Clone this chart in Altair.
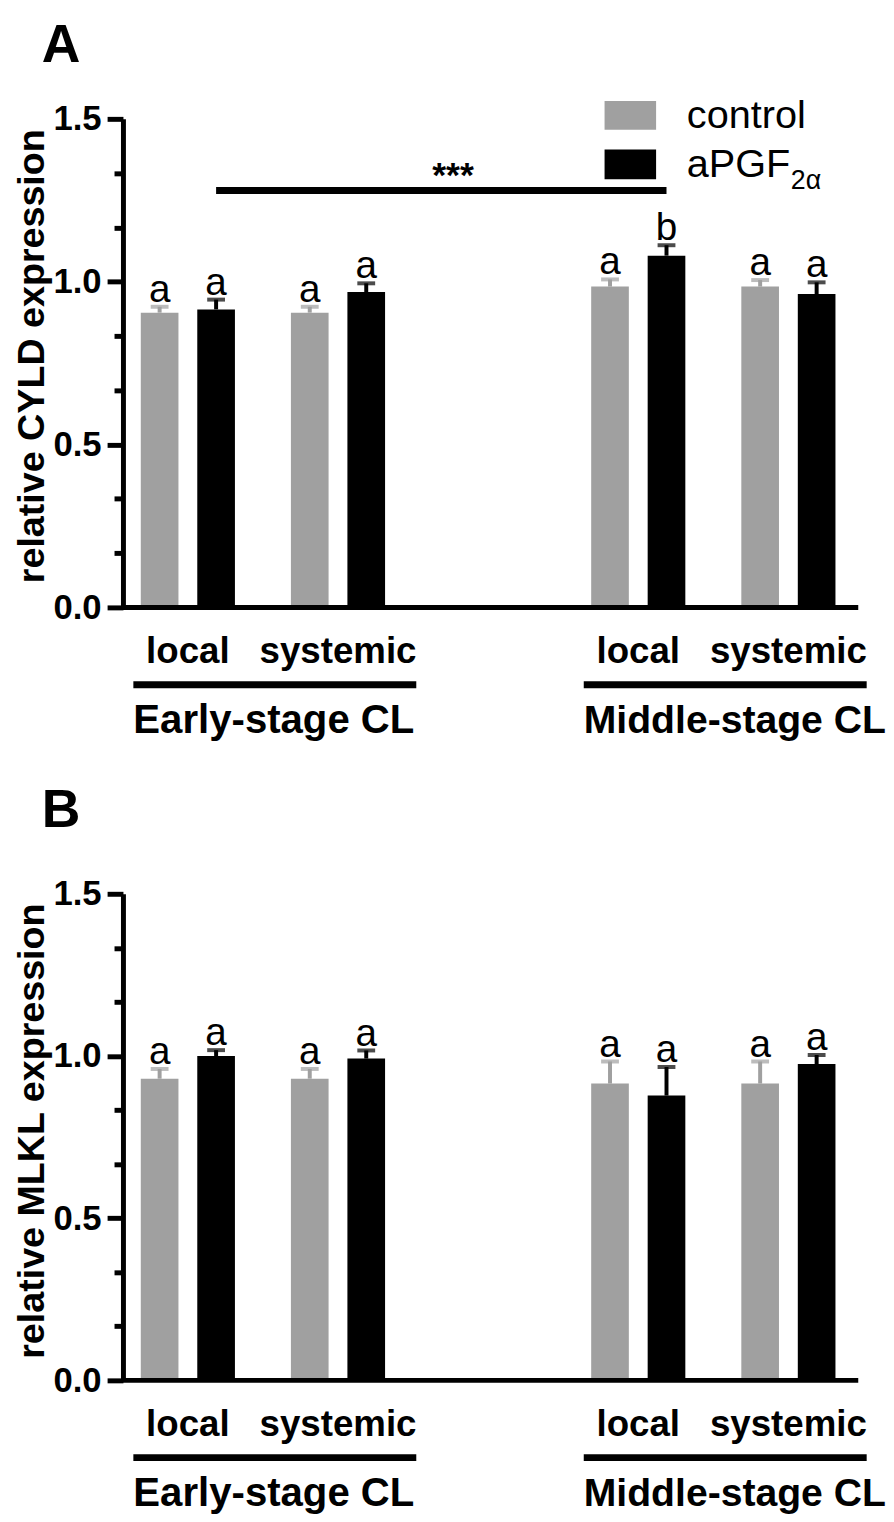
import altair as alt
import pandas as pd

FONT = "Liberation Sans"

# ---------------- data ----------------
groups = ["Early local", "Early systemic", "gap", "Middle local", "Middle systemic"]
bar_groups = ["Early local", "Early systemic", "Middle local", "Middle systemic"]
group_labels = ["local", "systemic", "local", "systemic"]
stage_names = ["Early-stage CL", "Middle-stage CL"]
stage_start = ["Early local", "Middle local"]
stage_end = ["Early systemic", "Middle systemic"]
stage_font = [40.5, 39.5]
treatments = ["control", "aPGF2α"]
treatment_colors = ["#a0a0a0", "#000000"]

# Panel A: CYLD
cyld_control = [0.905, 0.905, 0.985, 0.985]
cyld_control_err = [0.018, 0.018, 0.022, 0.020]
cyld_apgf = [0.915, 0.968, 1.080, 0.962]
cyld_apgf_err = [0.030, 0.027, 0.032, 0.036]
cyld_control_letters = ["a", "a", "a", "a"]
cyld_apgf_letters = ["a", "a", "b", "a"]

# Panel B: MLKL
mlkl_control = [0.930, 0.930, 0.915, 0.915]
mlkl_control_err = [0.030, 0.030, 0.068, 0.068]
mlkl_apgf = [1.000, 0.992, 0.878, 0.975]
mlkl_apgf_err = [0.018, 0.025, 0.088, 0.028]
mlkl_control_letters = ["a", "a", "a", "a"]
mlkl_apgf_letters = ["a", "a", "a", "a"]

# significance bracket in panel A
sig_start = ["Early local"]
sig_end = ["Middle local"]
sig_level = [1.28]
sig_text = ["***"]

y_ticks = [0.0, 0.16667, 0.33333, 0.5, 0.66667, 0.83333, 1.0, 1.16667, 1.33333, 1.5]


def make_df(ctrl, ctrl_err, trt, trt_err, ctrl_let, trt_let):
    rows = []
    for i, g in enumerate(bar_groups):
        rows.append(dict(group=g, treatment=treatments[0], value=ctrl[i], err=ctrl_err[i], letter=ctrl_let[i]))
        rows.append(dict(group=g, treatment=treatments[1], value=trt[i], err=trt_err[i], letter=trt_let[i]))
    df = pd.DataFrame(rows)
    df["top"] = df["value"] + df["err"]
    return df


df_a = make_df(cyld_control, cyld_control_err, cyld_apgf, cyld_apgf_err, cyld_control_letters, cyld_apgf_letters)
df_b = make_df(mlkl_control, mlkl_control_err, mlkl_apgf, mlkl_apgf_err, mlkl_control_letters, mlkl_apgf_letters)

# ---------------- shared scales ----------------
xscale = alt.Scale(domain=groups, range=[8.5, 728.5], paddingInner=0.2475, paddingOuter=0)
xoffscale = alt.Scale(domain=treatments, paddingInner=1 / 3, paddingOuter=1 / 6)
color_scale = alt.Scale(domain=treatments, range=treatment_colors)

MAJOR = "abs(datum.value*2 - round(datum.value*2)) < 0.01"


def panel(df, top_px, base_px, ytitle, title_y, tag, tag_y, with_sig=False, with_legend=False):
    yscale = alt.Scale(domain=[0, 1.5], range=[base_px, top_px], nice=False, zero=False)
    yaxis = alt.Axis(
        orient="left",
        values=y_ticks,
        labelExpr=MAJOR + " ? format(datum.value, '.1f') : ''",
        tickSize={"condition": {"test": MAJOR, "value": 16}, "value": 9},
        tickWidth=5,
        tickColor="black",
        domainWidth=5,
        domainColor="black",
        grid=False,
        labelFont=FONT,
        labelFontSize=35,
        labelFontWeight="bold",
        labelColor="black",
        labelPadding=6,
        labelOverlap=False,
        titleFont=FONT,
        titleFontSize=38,
        titleFontWeight="bold",
        titleColor="black",
        titlePadding=2,
        titleY=title_y,
    )

    def Y(field):
        return alt.Y(f"{field}:Q", scale=yscale, axis=yaxis, title=ytitle)

    X = alt.X("group:N", scale=xscale, axis=None)
    XO = alt.XOffset("treatment:N", scale=xoffscale)
    C = alt.Color("treatment:N", scale=color_scale, legend=None)
    base = alt.Chart(df)

    bars = base.mark_bar().encode(x=X, xOffset=XO, y=Y("value"), color=C)
    err = base.mark_rule(strokeWidth=4).encode(x=X, xOffset=XO, y=Y("value"), y2="top:Q", color=C)
    cap = base.mark_tick(thickness=4, size=18).encode(x=X, xOffset=XO, y=Y("top"), color=C)
    letters = base.mark_text(font=FONT, fontSize=39, baseline="alphabetic", dy=-5, color="black").encode(
        x=X, xOffset=XO, y=Y("top"), text="letter:N"
    )

    baseline = alt.Chart(pd.DataFrame({"v": [0.0]})).mark_rule(strokeWidth=5, color="black").encode(
        x=alt.value(0), x2=alt.value(742), y=Y("v")
    )

    lab_df = pd.DataFrame({"group": bar_groups, "label": group_labels})
    xlabels = alt.Chart(lab_df).mark_text(
        font=FONT, fontSize=37, fontWeight="bold", baseline="alphabetic", color="black"
    ).encode(x=X, y=alt.value(base_px + 56), text="label:N")

    stage_df = pd.DataFrame({"start": stage_start, "end": stage_end, "name": stage_names, "fs": stage_font})
    underline = alt.Chart(stage_df).mark_rule(strokeWidth=7, xOffset=-55, x2Offset=79, color="black").encode(
        x=alt.X("start:N", scale=xscale, axis=None), x2="end:N", y=alt.value(base_px + 78)
    )
    stage_text = alt.Chart(stage_df).mark_text(
        font=FONT, fontWeight="bold", align="left", baseline="alphabetic", xOffset=-55, color="black"
    ).encode(
        x=alt.X("start:N", scale=xscale, axis=None),
        y=alt.value(base_px + 127),
        text="name:N",
        size=alt.Size("fs:Q", scale=None, legend=None),
    )

    tag_text = alt.Chart(pd.DataFrame({"t": [tag]})).mark_text(
        font=FONT, fontSize=54, fontWeight="bold", align="left", baseline="alphabetic", color="black"
    ).encode(x=alt.value(-82), y=alt.value(tag_y), text="t:N")

    layers = [bars, err, cap, baseline, letters, xlabels, underline, stage_text, tag_text]

    if with_sig:
        sig_df = pd.DataFrame({"start": sig_start, "end": sig_end, "y": sig_level, "s": sig_text})
        sig_rule = alt.Chart(sig_df).mark_rule(strokeWidth=7, xOffset=28.5, x2Offset=28.5, color="black").encode(
            x=alt.X("start:N", scale=xscale, axis=None), x2="end:N", y=Y("y")
        )
        sig_stars = alt.Chart(sig_df).mark_text(
            font=FONT, fontSize=36, fontWeight="bold", baseline="alphabetic", dy=-4, xOffset=267.5, color="black"
        ).encode(x=alt.X("start:N", scale=xscale, axis=None), y=Y("y"), text="s:N")
        layers += [sig_rule, sig_stars]

    if with_legend:
        one = pd.DataFrame({"k": [0]})
        leg1 = alt.Chart(one).mark_rect(color=treatment_colors[0]).encode(
            x=alt.value(486), x2=alt.value(538), y=alt.value(87), y2=alt.value(116)
        )
        leg2 = alt.Chart(one).mark_rect(color=treatment_colors[1]).encode(
            x=alt.value(486), x2=alt.value(538), y=alt.value(136), y2=alt.value(166)
        )
        t1 = alt.Chart(one).mark_text(font=FONT, fontSize=40, align="left", baseline="alphabetic", color="black",
                                      text=treatments[0]).encode(x=alt.value(569), y=alt.value(114))
        t2 = alt.Chart(one).mark_text(font=FONT, fontSize=40, align="left", baseline="alphabetic", color="black",
                                      text="aPGF").encode(x=alt.value(569), y=alt.value(164))
        t3 = alt.Chart(one).mark_text(font=FONT, fontSize=27, align="left", baseline="alphabetic", color="black",
                                      text="2α").encode(x=alt.value(674), y=alt.value(176))
        layers += [leg1, leg2, t1, t2, t3]

    return alt.layer(*layers)


panel_a = panel(df_a, 105, 598, "relative CYLD expression", 344, "A", 48, with_sig=True, with_legend=True)
panel_b = panel(df_b, 887, 1378, "relative MLKL expression", 1126, "B", 820)

chart = (
    alt.layer(panel_a, panel_b)
    .resolve_scale(y="independent")
    .resolve_axis(y="independent")
    .properties(
        width=742,
        height=1506,
        autosize=alt.AutoSizeParams(type="none"),
        padding={"left": 116, "top": 0, "right": 28, "bottom": 0},
        background="white",
    )
    .configure_view(stroke=None)
)

chart.save("out.html", embed_options={"renderer": "svg", "actions": False})
